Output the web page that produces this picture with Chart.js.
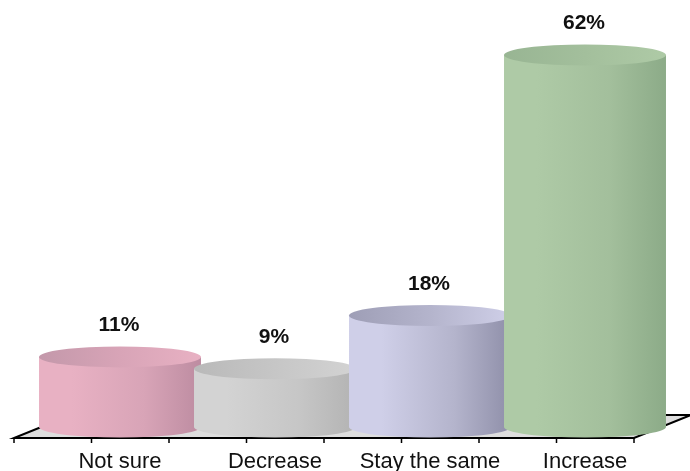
<!DOCTYPE html>
<html>
<head>
<meta charset="utf-8">
<style>
  html, body { margin: 0; padding: 0; background: #fff; }
  #wrap { width: 690px; height: 471px; }
</style>
<script src="https://cdn.jsdelivr.net/npm/chart.js@4/dist/chart.umd.js"></script>
</head>
<body>
<div id="wrap"><canvas id="chart" width="690" height="471"></canvas></div>
<script>
const categories = ['Not sure', 'Decrease', 'Stay the same', 'Increase'];
const shares = [11, 9, 18, 62];

// Shading per cylinder: light edge, middle tone, dark edge, shaded side of the cap
const lightTones = ['#e8b1c3', '#d3d3d3', '#cfcfe8', '#aecaa6'];
const midTones = ['#d8a4b7', '#c6c6c6', '#b4b4cc', '#a3bf9c'];
const darkTones = ['#bd8ca1', '#b3b3b3', '#8f8fa9', '#8cab88'];
const capShadeTones = ['#c398aa', '#b9b9b9', '#9e9eb6', '#98b593'];

const floorColor = '#dedede';
const axisColor = '#000000';

// Floor depth of the pseudo-3D plot and cylinder cap height
const depthX = 57;
const depthY = 23;
const capRadiusY = 10.5;

function sideGradient(ctx, left, right, i) {
  const g = ctx.createLinearGradient(left, 0, right, 0);
  g.addColorStop(0, lightTones[i]);
  g.addColorStop(0.2, lightTones[i]);
  g.addColorStop(0.65, midTones[i]);
  g.addColorStop(1, darkTones[i]);
  return g;
}

function capGradient(ctx, left, right, i) {
  const g = ctx.createLinearGradient(left, 0, right, 0);
  g.addColorStop(0, capShadeTones[i]);
  g.addColorStop(0.5, midTones[i]);
  g.addColorStop(1, lightTones[i]);
  return g;
}

const floorPlugin = {
  id: 'floor',
  beforeDatasetsDraw(chart) {
    const { ctx, chartArea, scales } = chart;
    const x = scales.x;
    const frontY = chartArea.bottom + 11;
    const frontLeft = chartArea.left - depthX / 2;
    const frontRight = chartArea.right - depthX / 2;

    ctx.save();
    ctx.beginPath();
    ctx.moveTo(frontLeft, frontY);
    ctx.lineTo(frontRight, frontY);
    ctx.lineTo(frontRight + depthX, frontY - depthY);
    ctx.lineTo(frontLeft + depthX, frontY - depthY);
    ctx.closePath();
    ctx.fillStyle = floorColor;
    ctx.fill();

    ctx.strokeStyle = axisColor;
    ctx.lineWidth = 2;
    ctx.beginPath();
    ctx.moveTo(frontLeft + depthX, frontY - depthY);
    ctx.lineTo(frontLeft, frontY);
    ctx.lineTo(frontRight, frontY);
    ctx.lineTo(frontRight + depthX, frontY - depthY);
    ctx.lineTo(frontLeft + depthX, frontY - depthY);
    ctx.stroke();

    // Tick marks at each category centre and boundary
    const step = x.getPixelForValue(1) - x.getPixelForValue(0);
    ctx.lineWidth = 1.5;
    ctx.beginPath();
    for (let k = 0; k <= categories.length * 2; k++) {
      const px = frontLeft + k * step / 2;
      ctx.moveTo(px, frontY);
      ctx.lineTo(px, frontY + 5);
    }
    ctx.stroke();
    ctx.restore();
  }
};

const cylinderPlugin = {
  id: 'cylinders',
  afterDatasetsDraw(chart) {
    const { ctx, chartArea } = chart;
    const bars = chart.getDatasetMeta(0).data;
    const baseY = chartArea.bottom;

    bars.forEach((bar, i) => {
      const cx = bar.x;
      const rx = bar.width / 2;
      const topY = bar.y;
      const left = cx - rx;
      const right = cx + rx;

      ctx.save();
      ctx.beginPath();
      ctx.moveTo(left, topY);
      ctx.lineTo(left, baseY);
      ctx.ellipse(cx, baseY, rx, capRadiusY, 0, Math.PI, 0, true);
      ctx.lineTo(right, topY);
      ctx.closePath();
      ctx.fillStyle = sideGradient(ctx, left, right, i);
      ctx.fill();

      ctx.beginPath();
      ctx.ellipse(cx, topY, rx, capRadiusY, 0, 0, Math.PI * 2);
      ctx.fillStyle = capGradient(ctx, left, right, i);
      ctx.fill();

      ctx.fillStyle = '#111111';
      ctx.font = 'bold 21px "Liberation Sans", Arial, sans-serif';
      ctx.textAlign = 'center';
      ctx.textBaseline = 'middle';
      ctx.fillText(shares[i] + '%', cx - 1, topY - 31.5);
      ctx.restore();
    });
  }
};

new Chart(document.getElementById('chart'), {
  type: 'bar',
  data: {
    labels: categories,
    datasets: [{
      data: shares,
      backgroundColor: 'transparent',
      borderWidth: 0,
      barPercentage: 1.045,
      categoryPercentage: 1
    }]
  },
  options: {
    responsive: false,
    animation: false,
    layout: { padding: { left: 42.5, right: 27.5, top: 7.6, bottom: 0 } },
    plugins: { legend: { display: false }, tooltip: { enabled: false } },
    scales: {
      x: {
        afterFit(scale) { scale.height = 44; },
        grid: { display: false, drawBorder: false },
        border: { display: false },
        ticks: {
          maxRotation: 0,
          padding: 14,
          color: '#111111',
          font: { family: '"Liberation Sans", Arial, sans-serif', size: 22 }
        }
      },
      y: {
        display: false,
        min: -0.84,
        max: 70
      }
    }
  },
  plugins: [floorPlugin, cylinderPlugin]
});
</script>
</body>
</html>
